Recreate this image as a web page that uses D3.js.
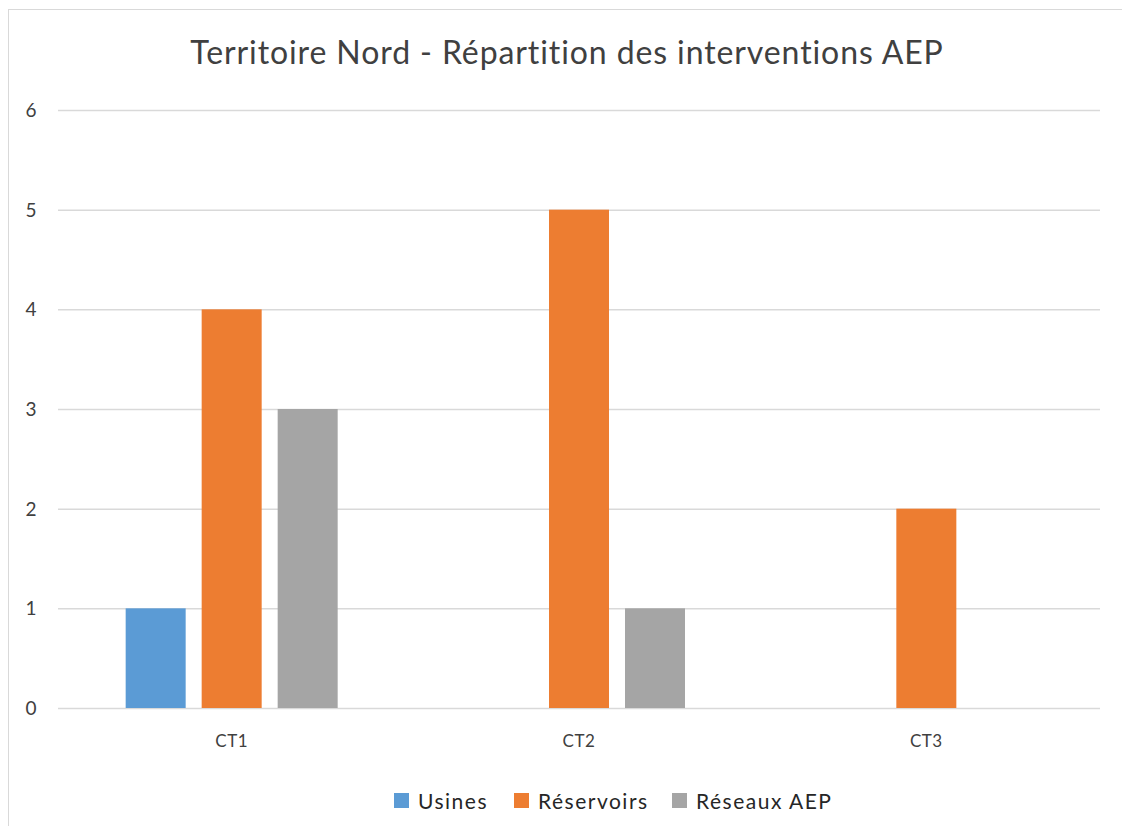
<!DOCTYPE html>
<html><head><meta charset="utf-8">
<script src="https://cdn.jsdelivr.net/npm/d3@7"></script>
<style>body{margin:0;background:#fff}</style>
</head><body>
<svg id="c" width="1122" height="826"></svg>
<script>
const title = "Territoire Nord - Répartition des interventions AEP";
const categories = ["CT1", "CT2", "CT3"];
const seriesNames = ["Usines", "Réservoirs", "Réseaux AEP"];
const usines = [1, 0, 0];
const reservoirs = [4, 5, 2];
const reseaux = [3, 1, 0];
const yTicks = [0, 1, 2, 3, 4, 5, 6];
const colors = ["#5B9BD5", "#ED7D31", "#A5A5A5"];

(function () {
const seriesValues = [usines, reservoirs, reseaux];
const svg = d3.select("#c");
const font = "Lato, 'Open Sans', sans-serif";

// chart frame
svg.append("rect").attr("x", 8.5).attr("y", 9.5).attr("width", 1130).attr("height", 830)
  .attr("fill", "#fff").attr("stroke", "#D9D9D9").attr("stroke-width", 1);

const pL = 58, pR = 1100, pT = 110, pB = 708;
const x = d3.scaleBand().domain(categories).range([pL, pR]);
const y = d3.scaleLinear().domain([0, 6]).range([pB, pT]);
const barW = 60, gap = 16;
const groupW = 3 * barW + 2 * gap;
const xs = d3.scaleBand().domain(seriesNames).range([0, groupW]).paddingInner(gap / (barW + gap));

// gridlines
svg.append("g").selectAll("line").data(yTicks).join("line")
  .attr("x1", pL).attr("x2", pR)
  .attr("y1", d => y(d) + 0.5).attr("y2", d => y(d) + 0.5)
  .attr("stroke", "#D9D9D9").attr("stroke-width", 1.5);

// y tick labels
svg.append("g").selectAll("text").data(yTicks).join("text")
  .attr("x", 31).attr("y", d => y(d)).attr("dy", "0.36em")
  .attr("text-anchor", "middle").attr("font-family", font).attr("font-size", 19)
  .attr("fill", "#404040").text(d => d);

// bars
categories.forEach((c, i) => {
  const gx = x(c) + x.bandwidth() / 2 - groupW / 2;
  seriesNames.forEach((s, j) => {
    const v = seriesValues[j][i];
    if (v <= 0) return;
    svg.append("rect")
      .attr("x", gx + xs(s)).attr("width", xs.bandwidth())
      .attr("y", y(v)).attr("height", y(0) - y(v))
      .attr("fill", colors[j]);
  });
});

// x labels
svg.append("g").selectAll("text").data(categories).join("text")
  .attr("x", d => x(d) + x.bandwidth() / 2).attr("y", 741).attr("dy", "0.36em")
  .attr("text-anchor", "middle").attr("font-family", font).attr("font-size", 17)
  .attr("letter-spacing", 0.5)
  .attr("fill", "#404040").text(d => d);

// title
svg.append("text").attr("x", 567).attr("y", 52).attr("dy", "0.36em")
  .attr("text-anchor", "middle").attr("font-family", font).attr("font-size", 32)
  .attr("letter-spacing", 0.9)
  .attr("fill", "#404040").text(title);

// legend
const legX = [394, 514, 672];
const lg = svg.append("g");
seriesNames.forEach((s, j) => {
  lg.append("rect").attr("x", legX[j]).attr("y", 793).attr("width", 15).attr("height", 15).attr("fill", colors[j]);
  lg.append("text").attr("x", legX[j] + 24).attr("y", 801).attr("dy", "0.36em")
    .attr("font-family", font).attr("font-size", 21).attr("letter-spacing", 1.5)
    .attr("fill", "#262626").text(s);
});
})();
</script>
</body></html>
